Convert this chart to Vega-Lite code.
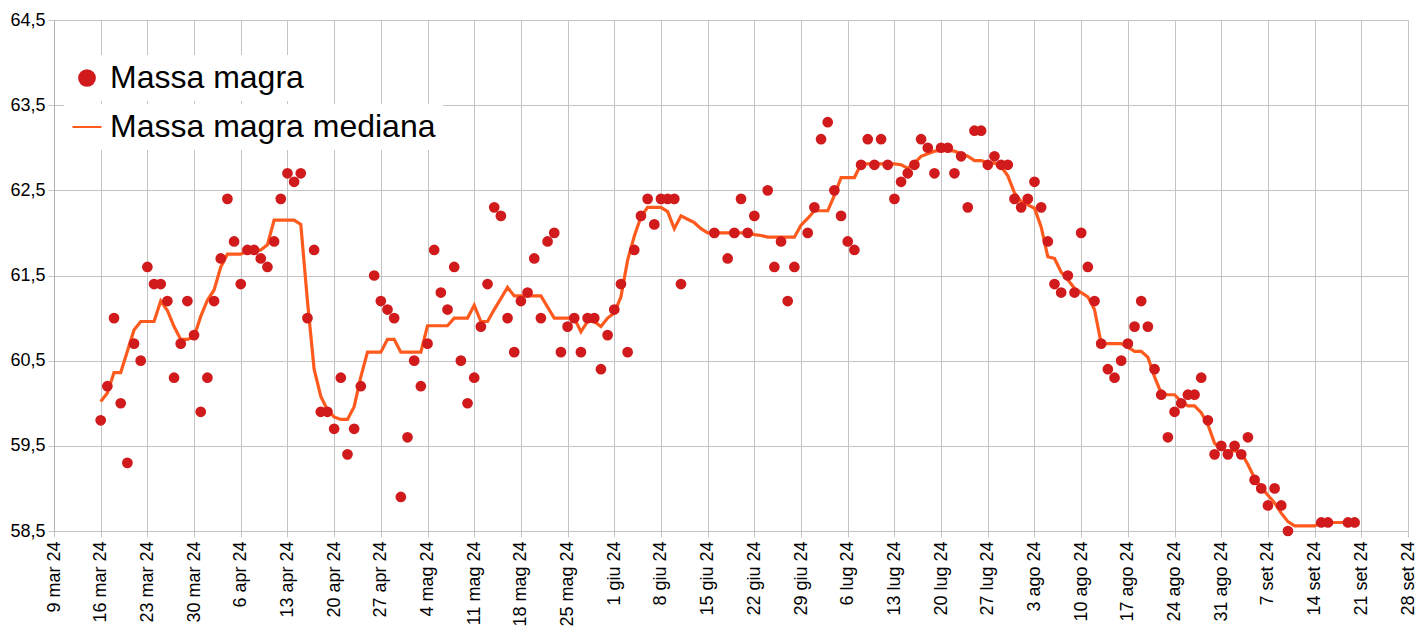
{
  "$schema": "https://vega.github.io/schema/vega-lite/v6.json",
  "width": 1354,
  "height": 511,
  "autosize": "none",
  "padding": {"left": 54, "top": 20, "right": 18, "bottom": 108},
  "background": "#ffffff",
  "datasets": {
    "punti": [
      {"data": "2024-03-16", "valore": 59.8}, {"data": "2024-03-17", "valore": 60.2},
      {"data": "2024-03-18", "valore": 61.0}, {"data": "2024-03-19", "valore": 60.0},
      {"data": "2024-03-20", "valore": 59.3}, {"data": "2024-03-21", "valore": 60.7},
      {"data": "2024-03-22", "valore": 60.5}, {"data": "2024-03-23", "valore": 61.6},
      {"data": "2024-03-24", "valore": 61.4}, {"data": "2024-03-25", "valore": 61.4},
      {"data": "2024-03-26", "valore": 61.2}, {"data": "2024-03-27", "valore": 60.3},
      {"data": "2024-03-28", "valore": 60.7}, {"data": "2024-03-29", "valore": 61.2},
      {"data": "2024-03-30", "valore": 60.8}, {"data": "2024-03-31", "valore": 59.9},
      {"data": "2024-04-01", "valore": 60.3}, {"data": "2024-04-02", "valore": 61.2},
      {"data": "2024-04-03", "valore": 61.7}, {"data": "2024-04-04", "valore": 62.4},
      {"data": "2024-04-05", "valore": 61.9}, {"data": "2024-04-06", "valore": 61.4},
      {"data": "2024-04-07", "valore": 61.8}, {"data": "2024-04-08", "valore": 61.8},
      {"data": "2024-04-09", "valore": 61.7}, {"data": "2024-04-10", "valore": 61.6},
      {"data": "2024-04-11", "valore": 61.9}, {"data": "2024-04-12", "valore": 62.4},
      {"data": "2024-04-13", "valore": 62.7}, {"data": "2024-04-14", "valore": 62.6},
      {"data": "2024-04-15", "valore": 62.7}, {"data": "2024-04-16", "valore": 61.0},
      {"data": "2024-04-17", "valore": 61.8}, {"data": "2024-04-18", "valore": 59.9},
      {"data": "2024-04-19", "valore": 59.9}, {"data": "2024-04-20", "valore": 59.7},
      {"data": "2024-04-21", "valore": 60.3}, {"data": "2024-04-22", "valore": 59.4},
      {"data": "2024-04-23", "valore": 59.7}, {"data": "2024-04-24", "valore": 60.2},
      {"data": "2024-04-26", "valore": 61.5}, {"data": "2024-04-27", "valore": 61.2},
      {"data": "2024-04-28", "valore": 61.1}, {"data": "2024-04-29", "valore": 61.0},
      {"data": "2024-04-30", "valore": 58.9}, {"data": "2024-05-01", "valore": 59.6},
      {"data": "2024-05-02", "valore": 60.5}, {"data": "2024-05-03", "valore": 60.2},
      {"data": "2024-05-04", "valore": 60.7}, {"data": "2024-05-05", "valore": 61.8},
      {"data": "2024-05-06", "valore": 61.3}, {"data": "2024-05-07", "valore": 61.1},
      {"data": "2024-05-08", "valore": 61.6}, {"data": "2024-05-09", "valore": 60.5},
      {"data": "2024-05-10", "valore": 60.0}, {"data": "2024-05-11", "valore": 60.3},
      {"data": "2024-05-12", "valore": 60.9}, {"data": "2024-05-13", "valore": 61.4},
      {"data": "2024-05-14", "valore": 62.3}, {"data": "2024-05-15", "valore": 62.2},
      {"data": "2024-05-16", "valore": 61.0}, {"data": "2024-05-17", "valore": 60.6},
      {"data": "2024-05-18", "valore": 61.2}, {"data": "2024-05-19", "valore": 61.3},
      {"data": "2024-05-20", "valore": 61.7}, {"data": "2024-05-21", "valore": 61.0},
      {"data": "2024-05-22", "valore": 61.9}, {"data": "2024-05-23", "valore": 62.0},
      {"data": "2024-05-24", "valore": 60.6}, {"data": "2024-05-25", "valore": 60.9},
      {"data": "2024-05-26", "valore": 61.0}, {"data": "2024-05-27", "valore": 60.6},
      {"data": "2024-05-28", "valore": 61.0}, {"data": "2024-05-29", "valore": 61.0},
      {"data": "2024-05-30", "valore": 60.4}, {"data": "2024-05-31", "valore": 60.8},
      {"data": "2024-06-01", "valore": 61.1}, {"data": "2024-06-02", "valore": 61.4},
      {"data": "2024-06-03", "valore": 60.6}, {"data": "2024-06-04", "valore": 61.8},
      {"data": "2024-06-05", "valore": 62.2}, {"data": "2024-06-06", "valore": 62.4},
      {"data": "2024-06-07", "valore": 62.1}, {"data": "2024-06-08", "valore": 62.4},
      {"data": "2024-06-09", "valore": 62.4}, {"data": "2024-06-10", "valore": 62.4},
      {"data": "2024-06-11", "valore": 61.4}, {"data": "2024-06-16", "valore": 62.0},
      {"data": "2024-06-18", "valore": 61.7}, {"data": "2024-06-19", "valore": 62.0},
      {"data": "2024-06-20", "valore": 62.4}, {"data": "2024-06-21", "valore": 62.0},
      {"data": "2024-06-22", "valore": 62.2}, {"data": "2024-06-24", "valore": 62.5},
      {"data": "2024-06-25", "valore": 61.6}, {"data": "2024-06-26", "valore": 61.9},
      {"data": "2024-06-27", "valore": 61.2}, {"data": "2024-06-28", "valore": 61.6},
      {"data": "2024-06-30", "valore": 62.0}, {"data": "2024-07-01", "valore": 62.3},
      {"data": "2024-07-02", "valore": 63.1}, {"data": "2024-07-03", "valore": 63.3},
      {"data": "2024-07-04", "valore": 62.5}, {"data": "2024-07-05", "valore": 62.2},
      {"data": "2024-07-06", "valore": 61.9}, {"data": "2024-07-07", "valore": 61.8},
      {"data": "2024-07-08", "valore": 62.8}, {"data": "2024-07-09", "valore": 63.1},
      {"data": "2024-07-10", "valore": 62.8}, {"data": "2024-07-11", "valore": 63.1},
      {"data": "2024-07-12", "valore": 62.8}, {"data": "2024-07-13", "valore": 62.4},
      {"data": "2024-07-14", "valore": 62.6}, {"data": "2024-07-15", "valore": 62.7},
      {"data": "2024-07-16", "valore": 62.8}, {"data": "2024-07-17", "valore": 63.1},
      {"data": "2024-07-18", "valore": 63.0}, {"data": "2024-07-19", "valore": 62.7},
      {"data": "2024-07-20", "valore": 63.0}, {"data": "2024-07-21", "valore": 63.0},
      {"data": "2024-07-22", "valore": 62.7}, {"data": "2024-07-23", "valore": 62.9},
      {"data": "2024-07-24", "valore": 62.3}, {"data": "2024-07-25", "valore": 63.2},
      {"data": "2024-07-26", "valore": 63.2}, {"data": "2024-07-27", "valore": 62.8},
      {"data": "2024-07-28", "valore": 62.9}, {"data": "2024-07-29", "valore": 62.8},
      {"data": "2024-07-30", "valore": 62.8}, {"data": "2024-07-31", "valore": 62.4},
      {"data": "2024-08-01", "valore": 62.3}, {"data": "2024-08-02", "valore": 62.4},
      {"data": "2024-08-03", "valore": 62.6}, {"data": "2024-08-04", "valore": 62.3},
      {"data": "2024-08-05", "valore": 61.9}, {"data": "2024-08-06", "valore": 61.4},
      {"data": "2024-08-07", "valore": 61.3}, {"data": "2024-08-08", "valore": 61.5},
      {"data": "2024-08-09", "valore": 61.3}, {"data": "2024-08-10", "valore": 62.0},
      {"data": "2024-08-11", "valore": 61.6}, {"data": "2024-08-12", "valore": 61.2},
      {"data": "2024-08-13", "valore": 60.7}, {"data": "2024-08-14", "valore": 60.4},
      {"data": "2024-08-15", "valore": 60.3}, {"data": "2024-08-16", "valore": 60.5},
      {"data": "2024-08-17", "valore": 60.7}, {"data": "2024-08-18", "valore": 60.9},
      {"data": "2024-08-19", "valore": 61.2}, {"data": "2024-08-20", "valore": 60.9},
      {"data": "2024-08-21", "valore": 60.4}, {"data": "2024-08-22", "valore": 60.1},
      {"data": "2024-08-23", "valore": 59.6}, {"data": "2024-08-24", "valore": 59.9},
      {"data": "2024-08-25", "valore": 60.0}, {"data": "2024-08-26", "valore": 60.1},
      {"data": "2024-08-27", "valore": 60.1}, {"data": "2024-08-28", "valore": 60.3},
      {"data": "2024-08-29", "valore": 59.8}, {"data": "2024-08-30", "valore": 59.4},
      {"data": "2024-08-31", "valore": 59.5}, {"data": "2024-09-01", "valore": 59.4},
      {"data": "2024-09-02", "valore": 59.5}, {"data": "2024-09-03", "valore": 59.4},
      {"data": "2024-09-04", "valore": 59.6}, {"data": "2024-09-05", "valore": 59.1},
      {"data": "2024-09-06", "valore": 59.0}, {"data": "2024-09-07", "valore": 58.8},
      {"data": "2024-09-08", "valore": 59.0}, {"data": "2024-09-09", "valore": 58.8},
      {"data": "2024-09-10", "valore": 58.5}, {"data": "2024-09-15", "valore": 58.6},
      {"data": "2024-09-16", "valore": 58.6}, {"data": "2024-09-19", "valore": 58.6},
      {"data": "2024-09-20", "valore": 58.6}
    ],
    "mediana": [
      {"data": "2024-03-16", "valore": 60.02}, {"data": "2024-03-17", "valore": 60.12},
      {"data": "2024-03-18", "valore": 60.36}, {"data": "2024-03-19", "valore": 60.36},
      {"data": "2024-03-20", "valore": 60.61}, {"data": "2024-03-21", "valore": 60.86},
      {"data": "2024-03-22", "valore": 60.96}, {"data": "2024-03-23", "valore": 60.96},
      {"data": "2024-03-24", "valore": 60.96}, {"data": "2024-03-25", "valore": 61.2},
      {"data": "2024-03-26", "valore": 61.09}, {"data": "2024-03-27", "valore": 60.9},
      {"data": "2024-03-28", "valore": 60.75}, {"data": "2024-03-29", "valore": 60.75},
      {"data": "2024-03-30", "valore": 60.78}, {"data": "2024-03-31", "valore": 61.02},
      {"data": "2024-04-01", "valore": 61.21}, {"data": "2024-04-02", "valore": 61.33},
      {"data": "2024-04-03", "valore": 61.6}, {"data": "2024-04-04", "valore": 61.75},
      {"data": "2024-04-05", "valore": 61.75}, {"data": "2024-04-06", "valore": 61.75},
      {"data": "2024-04-07", "valore": 61.79}, {"data": "2024-04-08", "valore": 61.79},
      {"data": "2024-04-09", "valore": 61.8}, {"data": "2024-04-10", "valore": 61.86},
      {"data": "2024-04-11", "valore": 62.15}, {"data": "2024-04-12", "valore": 62.15},
      {"data": "2024-04-13", "valore": 62.15}, {"data": "2024-04-14", "valore": 62.15},
      {"data": "2024-04-15", "valore": 62.1}, {"data": "2024-04-16", "valore": 61.2},
      {"data": "2024-04-17", "valore": 60.4}, {"data": "2024-04-18", "valore": 60.08},
      {"data": "2024-04-19", "valore": 59.92}, {"data": "2024-04-20", "valore": 59.84},
      {"data": "2024-04-21", "valore": 59.81}, {"data": "2024-04-22", "valore": 59.81},
      {"data": "2024-04-23", "valore": 59.96}, {"data": "2024-04-24", "valore": 60.31},
      {"data": "2024-04-25", "valore": 60.6}, {"data": "2024-04-26", "valore": 60.6},
      {"data": "2024-04-27", "valore": 60.6}, {"data": "2024-04-28", "valore": 60.75},
      {"data": "2024-04-29", "valore": 60.75}, {"data": "2024-04-30", "valore": 60.6},
      {"data": "2024-05-01", "valore": 60.6}, {"data": "2024-05-02", "valore": 60.6},
      {"data": "2024-05-03", "valore": 60.6}, {"data": "2024-05-04", "valore": 60.91},
      {"data": "2024-05-05", "valore": 60.91}, {"data": "2024-05-06", "valore": 60.91},
      {"data": "2024-05-07", "valore": 60.91}, {"data": "2024-05-08", "valore": 61.0},
      {"data": "2024-05-09", "valore": 61.0}, {"data": "2024-05-10", "valore": 61.0},
      {"data": "2024-05-11", "valore": 61.15}, {"data": "2024-05-12", "valore": 60.96},
      {"data": "2024-05-13", "valore": 60.96}, {"data": "2024-05-14", "valore": 61.1},
      {"data": "2024-05-15", "valore": 61.23}, {"data": "2024-05-16", "valore": 61.36},
      {"data": "2024-05-17", "valore": 61.26}, {"data": "2024-05-18", "valore": 61.26},
      {"data": "2024-05-19", "valore": 61.26}, {"data": "2024-05-20", "valore": 61.26},
      {"data": "2024-05-21", "valore": 61.26}, {"data": "2024-05-22", "valore": 61.13},
      {"data": "2024-05-23", "valore": 61.0}, {"data": "2024-05-24", "valore": 61.0},
      {"data": "2024-05-25", "valore": 61.0}, {"data": "2024-05-26", "valore": 61.0},
      {"data": "2024-05-27", "valore": 60.84}, {"data": "2024-05-28", "valore": 60.96},
      {"data": "2024-05-29", "valore": 60.96}, {"data": "2024-05-30", "valore": 60.9},
      {"data": "2024-05-31", "valore": 61.0}, {"data": "2024-06-01", "valore": 61.06},
      {"data": "2024-06-02", "valore": 61.25}, {"data": "2024-06-03", "valore": 61.68},
      {"data": "2024-06-04", "valore": 61.96}, {"data": "2024-06-05", "valore": 62.19},
      {"data": "2024-06-06", "valore": 62.3}, {"data": "2024-06-07", "valore": 62.3},
      {"data": "2024-06-08", "valore": 62.3}, {"data": "2024-06-09", "valore": 62.25},
      {"data": "2024-06-10", "valore": 62.05}, {"data": "2024-06-11", "valore": 62.2},
      {"data": "2024-06-12", "valore": 62.16}, {"data": "2024-06-13", "valore": 62.12},
      {"data": "2024-06-14", "valore": 62.05}, {"data": "2024-06-15", "valore": 62.0},
      {"data": "2024-06-16", "valore": 62.0}, {"data": "2024-06-17", "valore": 62.0},
      {"data": "2024-06-18", "valore": 62.0}, {"data": "2024-06-19", "valore": 62.0},
      {"data": "2024-06-20", "valore": 62.0}, {"data": "2024-06-21", "valore": 62.0},
      {"data": "2024-06-22", "valore": 61.98}, {"data": "2024-06-23", "valore": 61.97},
      {"data": "2024-06-24", "valore": 61.95}, {"data": "2024-06-25", "valore": 61.95},
      {"data": "2024-06-26", "valore": 61.95}, {"data": "2024-06-27", "valore": 61.95},
      {"data": "2024-06-28", "valore": 61.95}, {"data": "2024-06-29", "valore": 62.09},
      {"data": "2024-06-30", "valore": 62.17}, {"data": "2024-07-01", "valore": 62.26},
      {"data": "2024-07-02", "valore": 62.26}, {"data": "2024-07-03", "valore": 62.26},
      {"data": "2024-07-04", "valore": 62.44}, {"data": "2024-07-05", "valore": 62.65},
      {"data": "2024-07-06", "valore": 62.65}, {"data": "2024-07-07", "valore": 62.65},
      {"data": "2024-07-08", "valore": 62.81}, {"data": "2024-07-09", "valore": 62.81},
      {"data": "2024-07-10", "valore": 62.81}, {"data": "2024-07-11", "valore": 62.81},
      {"data": "2024-07-12", "valore": 62.81}, {"data": "2024-07-13", "valore": 62.81},
      {"data": "2024-07-14", "valore": 62.8}, {"data": "2024-07-15", "valore": 62.76},
      {"data": "2024-07-16", "valore": 62.82}, {"data": "2024-07-17", "valore": 62.9},
      {"data": "2024-07-18", "valore": 62.93}, {"data": "2024-07-19", "valore": 62.96},
      {"data": "2024-07-20", "valore": 62.97}, {"data": "2024-07-21", "valore": 62.97},
      {"data": "2024-07-22", "valore": 62.96}, {"data": "2024-07-23", "valore": 62.93},
      {"data": "2024-07-24", "valore": 62.9}, {"data": "2024-07-25", "valore": 62.85},
      {"data": "2024-07-26", "valore": 62.85}, {"data": "2024-07-27", "valore": 62.82},
      {"data": "2024-07-28", "valore": 62.82}, {"data": "2024-07-29", "valore": 62.78},
      {"data": "2024-07-30", "valore": 62.67}, {"data": "2024-07-31", "valore": 62.47},
      {"data": "2024-08-01", "valore": 62.37}, {"data": "2024-08-02", "valore": 62.33},
      {"data": "2024-08-03", "valore": 62.29}, {"data": "2024-08-04", "valore": 62.07},
      {"data": "2024-08-05", "valore": 61.72}, {"data": "2024-08-06", "valore": 61.7},
      {"data": "2024-08-07", "valore": 61.54}, {"data": "2024-08-08", "valore": 61.45},
      {"data": "2024-08-09", "valore": 61.35}, {"data": "2024-08-10", "valore": 61.3},
      {"data": "2024-08-11", "valore": 61.25}, {"data": "2024-08-12", "valore": 61.1},
      {"data": "2024-08-13", "valore": 60.7}, {"data": "2024-08-14", "valore": 60.7},
      {"data": "2024-08-15", "valore": 60.7}, {"data": "2024-08-16", "valore": 60.7},
      {"data": "2024-08-17", "valore": 60.66}, {"data": "2024-08-18", "valore": 60.61},
      {"data": "2024-08-19", "valore": 60.61}, {"data": "2024-08-20", "valore": 60.54},
      {"data": "2024-08-21", "valore": 60.31}, {"data": "2024-08-22", "valore": 60.12},
      {"data": "2024-08-23", "valore": 60.1}, {"data": "2024-08-24", "valore": 60.1},
      {"data": "2024-08-25", "valore": 60.02}, {"data": "2024-08-26", "valore": 59.97},
      {"data": "2024-08-27", "valore": 59.97}, {"data": "2024-08-28", "valore": 59.89},
      {"data": "2024-08-29", "valore": 59.75}, {"data": "2024-08-30", "valore": 59.53},
      {"data": "2024-08-31", "valore": 59.46}, {"data": "2024-09-01", "valore": 59.44},
      {"data": "2024-09-02", "valore": 59.44}, {"data": "2024-09-03", "valore": 59.42},
      {"data": "2024-09-04", "valore": 59.28}, {"data": "2024-09-05", "valore": 59.12},
      {"data": "2024-09-06", "valore": 59.01}, {"data": "2024-09-07", "valore": 58.92},
      {"data": "2024-09-08", "valore": 58.83}, {"data": "2024-09-09", "valore": 58.71},
      {"data": "2024-09-10", "valore": 58.61}, {"data": "2024-09-11", "valore": 58.56},
      {"data": "2024-09-12", "valore": 58.56}, {"data": "2024-09-13", "valore": 58.56},
      {"data": "2024-09-14", "valore": 58.56}, {"data": "2024-09-15", "valore": 58.6},
      {"data": "2024-09-16", "valore": 58.6}, {"data": "2024-09-17", "valore": 58.6},
      {"data": "2024-09-18", "valore": 58.6}, {"data": "2024-09-19", "valore": 58.6},
      {"data": "2024-09-20", "valore": 58.6}
    ]
  },
  "encoding": {
    "x": {
      "field": "data",
      "type": "temporal",
      "title": null,
      "scale": {
        "type": "utc",
        "domain": [
          {"year": 2024, "month": 3, "date": 9, "utc": true},
          {"year": 2024, "month": 9, "date": 28, "utc": true}
        ]
      },
      "axis": {
        "values": [
          {"year": 2024, "month": 3, "date": 9, "utc": true},
          {"year": 2024, "month": 3, "date": 16, "utc": true},
          {"year": 2024, "month": 3, "date": 23, "utc": true},
          {"year": 2024, "month": 3, "date": 30, "utc": true},
          {"year": 2024, "month": 4, "date": 6, "utc": true},
          {"year": 2024, "month": 4, "date": 13, "utc": true},
          {"year": 2024, "month": 4, "date": 20, "utc": true},
          {"year": 2024, "month": 4, "date": 27, "utc": true},
          {"year": 2024, "month": 5, "date": 4, "utc": true},
          {"year": 2024, "month": 5, "date": 11, "utc": true},
          {"year": 2024, "month": 5, "date": 18, "utc": true},
          {"year": 2024, "month": 5, "date": 25, "utc": true},
          {"year": 2024, "month": 6, "date": 1, "utc": true},
          {"year": 2024, "month": 6, "date": 8, "utc": true},
          {"year": 2024, "month": 6, "date": 15, "utc": true},
          {"year": 2024, "month": 6, "date": 22, "utc": true},
          {"year": 2024, "month": 6, "date": 29, "utc": true},
          {"year": 2024, "month": 7, "date": 6, "utc": true},
          {"year": 2024, "month": 7, "date": 13, "utc": true},
          {"year": 2024, "month": 7, "date": 20, "utc": true},
          {"year": 2024, "month": 7, "date": 27, "utc": true},
          {"year": 2024, "month": 8, "date": 3, "utc": true},
          {"year": 2024, "month": 8, "date": 10, "utc": true},
          {"year": 2024, "month": 8, "date": 17, "utc": true},
          {"year": 2024, "month": 8, "date": 24, "utc": true},
          {"year": 2024, "month": 8, "date": 31, "utc": true},
          {"year": 2024, "month": 9, "date": 7, "utc": true},
          {"year": 2024, "month": 9, "date": 14, "utc": true},
          {"year": 2024, "month": 9, "date": 21, "utc": true},
          {"year": 2024, "month": 9, "date": 28, "utc": true}
        ],
        "labelExpr": "utcdate(datum.value) + ' ' + ['gen','feb','mar','apr','mag','giu','lug','ago','set','ott','nov','dic'][utcmonth(datum.value)] + ' 24'",
        "labelAngle": 270,
        "labelAlign": "right",
        "labelBaseline": "middle",
        "labelPadding": 4,
        "labelOverlap": false,
        "labelBound": false,
        "labelFlush": false,
        "tickSize": 6,
        "domain": false,
        "grid": true
      }
    },
    "y": {
      "field": "valore",
      "type": "quantitative",
      "title": null,
      "scale": {"domain": [58.5, 64.5], "zero": false, "nice": false},
      "axis": {
        "values": [58.5, 59.5, 60.5, 61.5, 62.5, 63.5, 64.5],
        "labelExpr": "replace(format(datum.value, '.1f'), '.', ',')",
        "labelPadding": 3,
        "tickSize": 6,
        "domain": true,
        "grid": true
      }
    }
  },
  "layer": [
    {
      "data": {"name": "mediana"},
      "mark": {"type": "line", "strokeWidth": 3.2, "interpolate": "linear"},
      "encoding": {
        "stroke": {
          "datum": "Massa magra mediana",
          "scale": {"range": ["#ff5a1e"]},
          "legend": {
            "orient": "none",
            "legendX": 10,
            "legendY": 84,
            "title": null,
            "symbolType": "stroke",
            "symbolSize": 841,
            "symbolStrokeWidth": 2,
            "labelOffset": 7,
            "labelLimit": 800,
            "padding": 7,
            "fillColor": "#ffffff"
          }
        }
      }
    },
    {
      "data": {"name": "punti"},
      "mark": {"type": "circle", "size": 115, "opacity": 1},
      "encoding": {
        "color": {
          "datum": "Massa magra",
          "scale": {"range": ["#d11a1c"]},
          "legend": {
            "orient": "none",
            "legendX": 10,
            "legendY": 35,
            "title": null,
            "symbolType": "circle",
            "symbolSize": 314,
            "symbolOpacity": 1,
            "labelOffset": 7,
            "labelLimit": 800,
            "padding": 7,
            "fillColor": "#ffffff"
          }
        }
      }
    }
  ],
  "config": {
    "font": "Liberation Sans",
    "view": {"stroke": null},
    "axis": {
      "labelFont": "Liberation Sans",
      "labelFontSize": 18,
      "labelColor": "#000000",
      "gridColor": "#c4c4c4",
      "gridWidth": 1,
      "gridOpacity": 1,
      "tickColor": "#c4c4c4",
      "domainColor": "#b0b0b0"
    },
    "legend": {
      "labelFont": "Liberation Sans",
      "labelFontSize": 32,
      "labelColor": "#000000",
      "padding": 0
    }
  }
}
